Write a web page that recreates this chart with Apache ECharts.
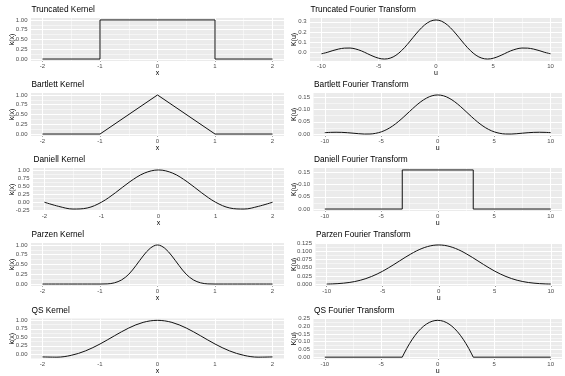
<!DOCTYPE html>
<html>
<head>
<meta charset="utf-8">
<script src="https://cdn.jsdelivr.net/npm/echarts@6/dist/echarts.min.js"></script>
<style>
  html, body { margin: 0; padding: 0; background: #fff; }
  #chart { width: 565px; height: 376px; }
</style>
</head>
<body>
<div id="chart"></div>
<script>
// 커널 / 푸리에 변환 값
const truncKernelX = [-2, -1, -1, 1, 1, 2];
const truncKernel = [0, 0, 1, 1, 0, 0];

const uHalf = [-10, -9.5, -9, -8.5, -8, -7.5, -7, -6.5, -6, -5.5, -5, -4.5, -4, -3.5, -3, -2.5, -2, -1.5, -1, -0.5,
  0, 0.5, 1, 1.5, 2, 2.5, 3, 3.5, 4, 4.5, 5, 5.5, 6, 6.5, 7, 7.5, 8, 8.5, 9, 9.5, 10];
const truncFourier = [-0.017, -0.003, 0.015, 0.030, 0.039, 0.040, 0.030, 0.011, -0.015, -0.041, -0.061, -0.069, -0.060,
  -0.032, 0.015, 0.076, 0.145, 0.212, 0.268, 0.305, 0.318, 0.305, 0.268, 0.212, 0.145, 0.076, 0.015, -0.032, -0.060,
  -0.069, -0.061, -0.041, -0.015, 0.011, 0.030, 0.040, 0.039, 0.030, 0.015, -0.003, -0.017];

const bartKernelX = [-2, -1, 0, 1, 2];
const bartKernel = [0, 0, 1, 0, 0];
const bartFourier = [0.0059, 0.0070, 0.0075, 0.0070, 0.0057, 0.0037, 0.0016, 0.0002, 0.0004, 0.0031, 0.0091, 0.0190,
  0.0329, 0.0503, 0.0704, 0.0917, 0.1127, 0.1315, 0.1463, 0.1559, 0.1592, 0.1559, 0.1463, 0.1315, 0.1127, 0.0917,
  0.0704, 0.0503, 0.0329, 0.0190, 0.0091, 0.0031, 0.0004, 0.0002, 0.0016, 0.0037, 0.0057, 0.0070, 0.0075, 0.0070, 0.0059];

const xQuarter = [-2, -1.75, -1.5, -1.25, -1, -0.75, -0.5, -0.25, 0, 0.25, 0.5, 0.75, 1, 1.25, 1.5, 1.75, 2];
const daniellKernel = [0, -0.129, -0.212, -0.180, 0, 0.300, 0.637, 0.900, 1, 0.900, 0.637, 0.300, 0, -0.180, -0.212, -0.129, 0];
const daniellFourierU = [-10, -3.1416, -3.1416, 3.1416, 3.1416, 10];
const daniellFourier = [0, 0, 0.159, 0.159, 0, 0];

const parzenKernelX = [-2, -1, -0.875, -0.75, -0.625, -0.5, -0.375, -0.25, -0.125, 0, 0.125, 0.25, 0.375, 0.5, 0.625, 0.75, 0.875, 1, 2];
const parzenKernel = [0, 0, 0.004, 0.031, 0.105, 0.250, 0.473, 0.719, 0.918, 1, 0.918, 0.719, 0.473, 0.250, 0.105, 0.031, 0.004, 0, 0];
const parzenFourier = [0.0004, 0.0009, 0.0017, 0.0031, 0.0051, 0.0080, 0.0119, 0.0170, 0.0234, 0.0309, 0.0396, 0.0494,
  0.0599, 0.0707, 0.0815, 0.0917, 0.1010, 0.1087, 0.1145, 0.1182, 0.1194, 0.1182, 0.1145, 0.1087, 0.1010, 0.0917,
  0.0815, 0.0707, 0.0599, 0.0494, 0.0396, 0.0309, 0.0234, 0.0170, 0.0119, 0.0080, 0.0051, 0.0031, 0.0017, 0.0009, 0.0004];

const qsKernel = [-0.076, -0.083, -0.029, 0.103, 0.304, 0.544, 0.774, 0.940, 1, 0.940, 0.774, 0.544, 0.304, 0.103, -0.029, -0.083, -0.076];
const qsFourierU = [-10, -3.1416, -3, -2.75, -2.5, -2.25, -2, -1.75, -1.5, -1.25, -1, -0.75, -0.5, -0.25, 0,
  0.25, 0.5, 0.75, 1, 1.25, 1.5, 1.75, 2, 2.25, 2.5, 2.75, 3, 3.1416, 10];
const qsFourier = [0, 0, 0.0210, 0.0558, 0.0875, 0.1163, 0.1420, 0.1646, 0.1843, 0.2009, 0.2145, 0.2251, 0.2327, 0.2372,
  0.2387, 0.2372, 0.2327, 0.2251, 0.2145, 0.2009, 0.1843, 0.1646, 0.1420, 0.1163, 0.0875, 0.0558, 0.0210, 0, 0];

// 눈금 값
const kernelXTicks = [-2, -1, 0, 1, 2];
const kernelXMinor = [-1.5, -0.5, 0.5, 1.5];
const fourierUTicks = [-10, -5, 0, 5, 10];
const fourierUMinor = [-7.5, -2.5, 2.5, 7.5];
const unitTicks = [0, 0.25, 0.5, 0.75, 1];
const unitMinor = [0.125, 0.375, 0.625, 0.875];
const signedUnitTicks = [-0.25, 0, 0.25, 0.5, 0.75, 1];
const signedUnitMinor = [-0.125, 0.125, 0.375, 0.625, 0.875];
const truncFourierTicks = [0, 0.1, 0.2, 0.3];
const truncFourierMinor = [-0.05, 0.05, 0.15, 0.25];
const smallFourierTicks = [0, 0.05, 0.1, 0.15];
const smallFourierMinor = [0.025, 0.075, 0.125];
const parzenFourierTicks = [0, 0.025, 0.05, 0.075, 0.1, 0.125];
const parzenFourierMinor = [0.0125, 0.0375, 0.0625, 0.0875, 0.1125];
const qsFourierTicks = [0, 0.05, 0.1, 0.15, 0.2, 0.25];
const qsFourierMinor = [0.025, 0.075, 0.125, 0.175, 0.225];

const FONT = 'Liberation Sans, Arial, sans-serif';
const ROW_TOPS = [18, 93, 168, 243, 318.5];
const PANEL_H = 43;
const LEFT_END = 284;
const RIGHT_END = 562;

// 패널 설정
const panels = [
  { title: 'Truncated Kernel', x: truncKernelX, y: truncKernel, smooth: false, row: 0, left: 31, xTicks: kernelXTicks, xMinor: kernelXMinor, yTicks: unitTicks, yMinor: unitMinor, digits: 2, xName: 'x', yName: 'k(x)', nameGap: 15 },
  { title: 'Truncated Fourier Transform', x: uHalf, y: truncFourier, smooth: true, row: 0, left: 310, xTicks: fourierUTicks, xMinor: fourierUMinor, yTicks: truncFourierTicks, yMinor: truncFourierMinor, digits: 1, xName: 'u', yName: 'K(u)', nameGap: 12.5 },
  { title: 'Bartlett Kernel', x: bartKernelX, y: bartKernel, smooth: false, row: 1, left: 31, xTicks: kernelXTicks, xMinor: kernelXMinor, yTicks: unitTicks, yMinor: unitMinor, digits: 2, xName: 'x', yName: 'k(x)', nameGap: 15 },
  { title: 'Bartlett Fourier Transform', x: uHalf, y: bartFourier, smooth: true, row: 1, left: 313.5, xTicks: fourierUTicks, xMinor: fourierUMinor, yTicks: smallFourierTicks, yMinor: smallFourierMinor, digits: 2, xName: 'u', yName: 'K(u)', nameGap: 15.5 },
  { title: 'Daniell Kernel', x: xQuarter, y: daniellKernel, smooth: true, row: 2, left: 33, xTicks: kernelXTicks, xMinor: kernelXMinor, yTicks: signedUnitTicks, yMinor: signedUnitMinor, digits: 2, xName: 'x', yName: 'k(x)', nameGap: 17 },
  { title: 'Daniell Fourier Transform', x: daniellFourierU, y: daniellFourier, smooth: false, row: 2, left: 313.5, xTicks: fourierUTicks, xMinor: fourierUMinor, yTicks: smallFourierTicks, yMinor: smallFourierMinor, digits: 2, xName: 'u', yName: 'K(u)', nameGap: 15.5 },
  { title: 'Parzen Kernel', x: parzenKernelX, y: parzenKernel, smooth: true, row: 3, left: 31, xTicks: kernelXTicks, xMinor: kernelXMinor, yTicks: unitTicks, yMinor: unitMinor, digits: 2, xName: 'x', yName: 'k(x)', nameGap: 15 },
  { title: 'Parzen Fourier Transform', x: uHalf, y: parzenFourier, smooth: true, row: 3, left: 315.5, xTicks: fourierUTicks, xMinor: fourierUMinor, yTicks: parzenFourierTicks, yMinor: parzenFourierMinor, digits: 3, xName: 'u', yName: 'K(u)', nameGap: 18 },
  { title: 'QS Kernel', x: xQuarter, y: qsKernel, smooth: true, row: 4, left: 31, xTicks: kernelXTicks, xMinor: kernelXMinor, yTicks: unitTicks, yMinor: signedUnitMinor, digits: 2, xName: 'x', yName: 'k(x)', nameGap: 15 },
  { title: 'QS Fourier Transform', x: qsFourierU, y: qsFourier, smooth: false, row: 4, left: 313.5, xTicks: fourierUTicks, xMinor: fourierUMinor, yTicks: qsFourierTicks, yMinor: qsFourierMinor, digits: 2, xName: 'u', yName: 'K(u)', nameGap: 15.5 }
];

// ggplot 기본 확장 (5%)
function expand(values) {
  const lo = Math.min(...values);
  const hi = Math.max(...values);
  const pad = (hi - lo) * 0.05;
  return [lo - pad, hi + pad];
}

function gridLines(xMajor, xMinor, yMajor, yMinor, yRange) {
  const inY = v => v >= yRange[0] && v <= yRange[1];
  const major = { color: '#fff', width: 1, type: 'solid' };
  const minor = { color: '#fff', width: 0.5, type: 'solid' };
  return [
    ...xMinor.map(v => ({ xAxis: v, lineStyle: minor })),
    ...yMinor.filter(inY).map(v => ({ yAxis: v, lineStyle: minor })),
    ...xMajor.map(v => ({ xAxis: v, lineStyle: major })),
    ...yMajor.filter(inY).map(v => ({ yAxis: v, lineStyle: major }))
  ];
}

const grids = [], xAxes = [], yAxes = [], titles = [], series = [];

panels.forEach((p, i) => {
  const top = ROW_TOPS[p.row];
  const isLeft = p.left < 200;
  const xRange = expand(p.x);
  const yRange = expand(p.y);

  grids.push({
    left: p.left, top: top, width: (isLeft ? LEFT_END : RIGHT_END) - p.left, height: PANEL_H,
    show: true, backgroundColor: '#EBEBEB', borderWidth: 0
  });

  titles.push({
    text: p.title, left: p.left + 0.5, top: top - 12, padding: 0,
    textStyle: { fontSize: 8.3, fontWeight: 'normal', color: '#000', fontFamily: FONT }
  });

  xAxes.push({
    gridIndex: i, type: 'value', min: xRange[0], max: xRange[1],
    axisLine: { show: false },
    axisTick: { show: true, length: 2.5, customValues: p.xTicks, lineStyle: { color: '#333', width: 0.8 } },
    axisLabel: { customValues: p.xTicks, fontSize: 6, color: '#4D4D4D', margin: 2.5, fontFamily: FONT, hideOverlap: false },
    splitLine: { show: false },
    name: p.xName, nameLocation: 'middle', nameGap: 9, nameMoveOverlap: false,
    nameTextStyle: { fontSize: 7, color: '#000', fontFamily: FONT }
  });

  yAxes.push({
    gridIndex: i, type: 'value', min: yRange[0], max: yRange[1],
    axisLine: { show: false },
    axisTick: { show: true, length: 2.5, customValues: p.yTicks, lineStyle: { color: '#333', width: 0.8 } },
    axisLabel: {
      customValues: p.yTicks, fontSize: 6, color: '#4D4D4D', margin: 3.5, fontFamily: FONT, hideOverlap: false,
      formatter: v => v.toFixed(p.digits)
    },
    splitLine: { show: false },
    name: p.yName, nameLocation: 'middle', nameGap: p.nameGap, nameRotate: 90, nameMoveOverlap: false,
    nameTextStyle: { fontSize: 7, color: '#000', fontFamily: FONT }
  });

  series.push({
    type: 'line', xAxisIndex: i, yAxisIndex: i,
    data: p.x.map((x, k) => [x, p.y[k]]),
    showSymbol: false, smooth: p.smooth ? 0.35 : false,
    lineStyle: { color: '#111', width: 1 },
    z: 3, animation: false, silent: true,
    markLine: {
      silent: true, symbol: ['none', 'none'], label: { show: false }, z: 1, animation: false,
      precision: 10,
      emphasis: { disabled: true },
      data: gridLines(p.xTicks, p.xMinor, p.yTicks, p.yMinor, yRange)
    }
  });
});

const chart = echarts.init(document.getElementById('chart'), null, { renderer: 'canvas' });
chart.setOption({
  animation: false,
  backgroundColor: '#fff',
  title: titles,
  grid: grids,
  xAxis: xAxes,
  yAxis: yAxes,
  series: series
});
</script>
</body>
</html>
